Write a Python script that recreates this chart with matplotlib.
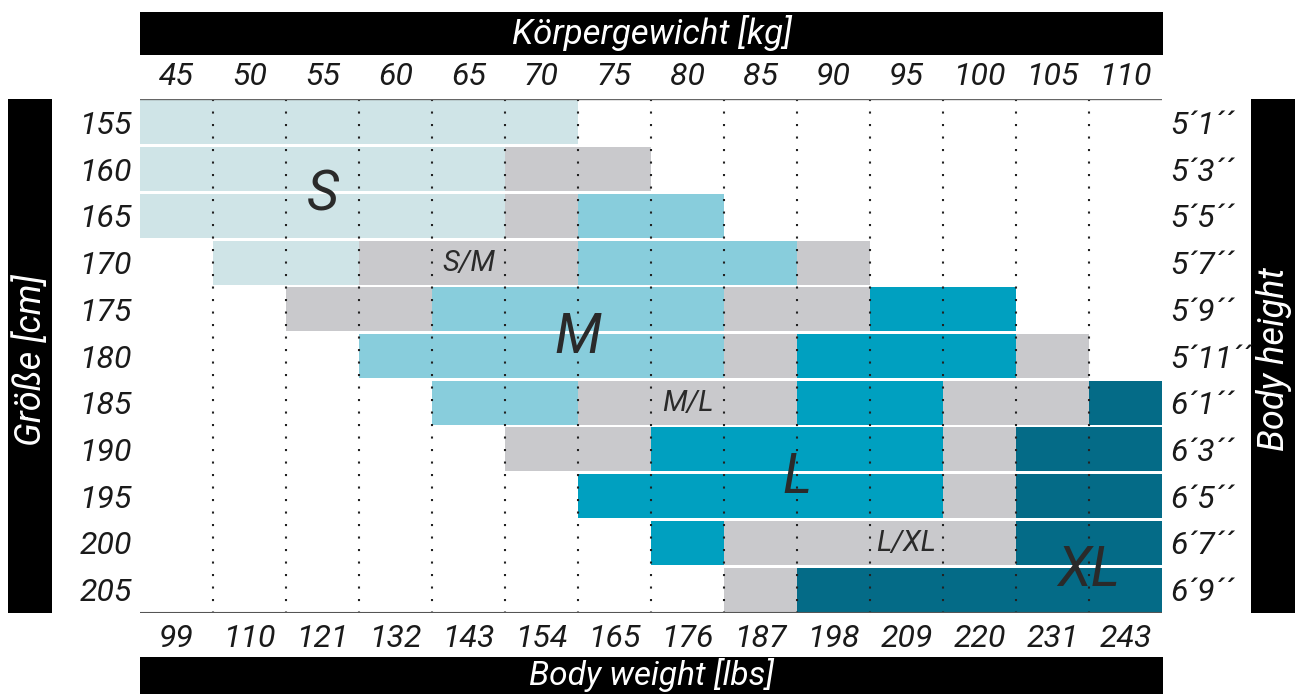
import matplotlib.pyplot as plt
from matplotlib.patches import Rectangle

weights_kg = [45, 50, 55, 60, 65, 70, 75, 80, 85, 90, 95, 100, 105, 110]
weights_lbs = [99, 110, 121, 132, 143, 154, 165, 176, 187, 198, 209, 220, 231, 243]
heights_cm = [155, 160, 165, 170, 175, 180, 185, 190, 195, 200, 205]
heights_ft = ["5´1´´", "5´3´´", "5´5´´", "5´7´´", "5´9´´", "5´11´´",
              "6´1´´", "6´3´´", "6´5´´", "6´7´´", "6´9´´"]

# one string per height row, one char per weight column
# S = small, g = in between, M = medium, L = large, X = xl, . = none
size_rows = [
    "SSSSSS........",
    "SSSSSgg.......",
    "SSSSSgMM......",
    ".SSgggMMMg....",
    "..ggMMMMggLL..",
    "...MMMMMgLLLg.",
    "....MMgggLLggX",
    ".....ggLLLLgXX",
    "......LLLLLgXX",
    ".......LggggXX",
    "........gXXXXX",
]

size_labels = ["S", "S/M", "M", "M/L", "L", "L/XL", "XL"]
label_col = [2.5, 4.5, 6.0, 7.5, 9.0, 10.5, 13.0]
label_row = [2.05, 3.5, 5.1, 6.5, 8.1, 9.5, 10.1]
label_big = [True, False, True, False, True, False, True]

colors = {"S": "#cfe4e7", "g": "#c9c9cc", "M": "#88cddc", "L": "#00a0c0", "X": "#046b87"}
FONT = ["Roboto", "DejaVu Sans"]
W, H = 1301, 694

fig = plt.figure(figsize=(W / 100, H / 100), dpi=100)

# background axes in pixel space for the black header bands
bg = fig.add_axes([0, 0, 1, 1])
bg.set_xlim(0, W)
bg.set_ylim(H, 0)
bg.axis("off")
bands = [
    (140, 12, 1023, 43, "Körpergewicht [kg]", 0, 33, 25),
    (140, 657, 1023, 40, "Body weight [lbs]", 0, 675, 24),
    (8, 99, 44, 514, "Größe [cm]", 90, 360, 26),
    (1251, 99, 44, 514, "Body height", 90, 359, 26),
]
for x, y, w, h, txt, rot, ty, fs in bands:
    bg.add_patch(Rectangle((x, y), w, h, color="black", lw=0))
    tx = x + w / 2 + (1 if rot else 0)
    bg.text(tx, ty, txt, color="white", fontsize=fs, style="italic",
            family=FONT, rotation=rot, ha="center", va="center")

# main grid
ax = fig.add_axes([140 / W, 81 / H, 1022 / W, 514 / H])
ax.set_xlim(0, 14)
ax.set_ylim(11, 0)
for r, row in enumerate(size_rows):
    for c, code in enumerate(row):
        if code in colors:
            ax.barh(r + 0.5, 1, left=c, height=0.94, color=colors[code], lw=0)

ax.vlines(range(1, 14), 0, 11, colors="#222222", linestyles=(0, (1, 5)), lw=1.5)
ax.axhline(0, color="#666666", lw=1)
ax.axhline(11, color="#555555", lw=1.5)

for txt, cx, cy, big in zip(size_labels, label_col, label_row, label_big):
    ax.text(cx, cy, txt, fontsize=40 if big else 21, style="italic",
            family=FONT, color="#2a2a2a", ha="center", va="center")

for s in ax.spines.values():
    s.set_visible(False)

centers = [i + 0.5 for i in range(len(weights_kg))]
ax.set_xticks(centers)
ax.set_xticklabels([str(v) for v in weights_kg])
ax.tick_params(axis="x", top=True, labeltop=True, bottom=False, labelbottom=False,
               length=0, pad=6)
ax.set_yticks([i + 0.5 for i in range(len(heights_cm))])
ax.set_yticklabels([str(v) for v in heights_cm])
ax.tick_params(axis="y", length=0, pad=6)

sec_x = ax.secondary_xaxis("bottom")
sec_x.set_xticks(centers)
sec_x.set_xticklabels([str(v) for v in weights_lbs])
sec_x.tick_params(length=0, pad=8)
sec_x.spines["bottom"].set_visible(False)

sec_y = ax.secondary_yaxis("right")
sec_y.set_yticks([i + 0.5 for i in range(len(heights_ft))])
sec_y.set_yticklabels(heights_ft)
sec_y.tick_params(length=0, pad=6)
sec_y.spines["right"].set_visible(False)

for lab in (ax.get_xticklabels() + ax.get_yticklabels() +
            sec_x.get_xticklabels() + sec_y.get_yticklabels()):
    lab.set_fontsize(23)
    lab.set_fontstyle("italic")
    lab.set_family(FONT)
    lab.set_color("#1a1a1a")

fig.savefig("out.png", dpi=100)
